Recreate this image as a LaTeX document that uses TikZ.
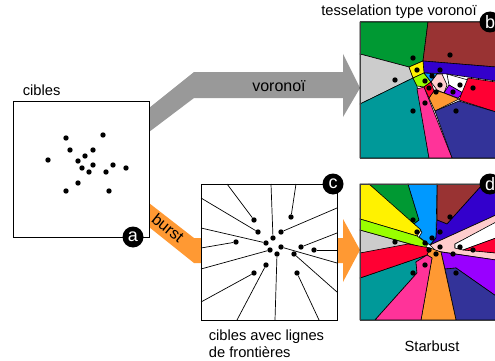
\documentclass[tikz,border=0pt]{standalone}
\usepackage{fontspec}
\setmainfont{Liberation Sans}
\usetikzlibrary{positioning}
\definecolor{vgreen}{HTML}{009933}
\definecolor{vbrown}{HTML}{993333}
\definecolor{vblue}{HTML}{3300CC}
\definecolor{vgray}{HTML}{CCCCCC}
\definecolor{vteal}{HTML}{009999}
\definecolor{vpink}{HTML}{FF3399}
\definecolor{vorange}{HTML}{FF9933}
\definecolor{vnavy}{HTML}{333399}
\definecolor{vred}{HTML}{FF0033}
\definecolor{vlime}{HTML}{99FF00}
\definecolor{vazure}{HTML}{0099FF}
\definecolor{vpurple}{HTML}{9900FF}
\definecolor{vpale}{HTML}{FFCCCC}
\definecolor{vflow}{HTML}{999999}
\tikzset{
    %Define style for boxes
    panel/.style={
           draw=black,
           line width=.7pt,
           fill=white,
           minimum width=136pt,
           minimum height=136pt,
           inner sep=0pt},
    panelframe/.style={
           draw=black!75,
           line width=1pt,
           minimum width=136pt,
           minimum height=136pt,
           inner sep=0pt},
    cible/.style={
           circle,
           fill=black,
           inner sep=0pt,
           minimum size=5.4pt},
    badge/.style={
           circle,
           fill=black,
           text=white,
           inner sep=0pt,
           minimum size=21pt,
           font=\fontsize{18}{18}\selectfont},
    legende/.style={
           font=\fontsize{14.7}{17}\selectfont,
           inner sep=0pt,
           align=left},
    fleche/.style={
           font=\fontsize{16}{16}\selectfont,
           inner sep=0pt},
    % Define cell style
    cell/.style={
           draw=black,
           line width=.6pt,
           line join=round},
    frontiere/.style={
           draw=black,
           line width=.7pt}
}
\newcommand{\cibles}{1/66/138,2/103/135,3/70/150,4/93/150,5/85/156,6/48/160,7/78/161,8/93/165,9/113/165,10/82/168,11/126/168,12/89/172,13/106/172,14/78/183,15/66/191,16/109/191}
\begin{document}
\begin{tikzpicture}[x=1pt,y=-1pt]
\useasboundingbox (0,0) rectangle (495,361);
% flow arrows
\fill[vflow] (149,108) -- (194,72) -- (343,72) -- (343,54) -- (360,88) -- (343,117) -- (343,98) -- (194,98) -- (149,132) -- cycle;
\fill[vorange] (149,203) -- (194,238) -- (201,238) -- (201,263) -- (194,263) -- (149,227) -- cycle;
\fill[vorange] (337,238) -- (343,238) -- (343,219) -- (360,250) -- (343,282) -- (343,263) -- (337,263) -- cycle;
\node[fleche] (voronoi) at (279,86) {voronoï};
\node[fleche,rotate=-39] (burst) at (168,228) {burst};

% targets
\node[panel] (boxa) at (81,169.5) {};
\node[legende,above right=5pt and 10pt of boxa.north west] (cibles) {cibles};
\foreach \i/\x/\y in \cibles
    \node[cible] (a\i) at (\x,\y) {};
\node[badge] (bada) at (133,237) {a};

% targets with boundary lines
\node[panel] (boxc) at (269,252) {};
\foreach \i/\x/\y in \cibles
    \node[cible] (c\i) at (\x+188,\y+82) {};
\foreach \i/\x/\y in {1/227/184,2/296/184,3/201/198,4/337/208,5/271/184,6/201/248,7/201/228,8/337/263,9/337/233,10/201/269,11/337/250,12/275/320,13/337/292,14/237/320,15/201/302,16/319/320}{
    \coordinate (e\i) at (\x,\y);
    \draw[frontiere] (c\i) -- (e\i);
}
\node[badge] (badc) at (333,184) {c};
\node[legende,below right=9pt and 8pt of boxc.south west] (avec) {cibles avec lignes\\de frontières};

% voronoi tessellation
\draw[cell,fill=vgreen] (360,22) -- (428,22) -- (423,61) -- (409,67) -- (360,54) -- cycle;
\draw[cell,fill=vbrown] (428,22) -- (496,22) -- (496,67) -- (423,61) -- cycle;
\draw[cell,fill=vgray] (360,54) -- (409,67) -- (413,78) -- (360,104) -- cycle;
\draw[cell,fill=vteal] (360,104) -- (413,78) -- (417,86) -- (429,158) -- (360,158) -- cycle;
\draw[cell,fill=vblue] (423,61) -- (496,67) -- (496,81) -- (468,77) -- (447,74) -- (428,73) -- (424,73) -- cycle;
\draw[cell,fill=yellow] (409,67) -- (423,61) -- (424,73) -- (413,78) -- cycle;
\draw[cell,fill=vlime] (413,78) -- (424,73) -- (431,82) -- (424,87) -- (417,86) -- cycle;
\draw[cell,fill=vazure] (424,73) -- (437,74) -- (431,82) -- cycle;
\draw[cell,fill=vpale] (437,74) -- (442,74) -- (447,85) -- (444,93) -- (437,90) -- (431,82) -- cycle;
\draw[cell,fill=white] (447,74) -- (468,80) -- (463,93) -- (449,85) -- cycle;
\draw[cell,fill=vpurple] (449,85) -- (463,93) -- (458,98) -- (444,93) -- cycle;
\draw[cell,fill=vred] (468,78) -- (496,82) -- (496,112) -- (459,100) -- cycle;
\draw[cell,fill=vorange] (434,90) -- (444,93) -- (459,99) -- (435,111) -- (429,98) -- cycle;
\draw[cell,fill=vnavy] (459,101) -- (496,112) -- (496,158) -- (452,158) -- (435,111) -- cycle;
\draw[cell,fill=vpink] (417,89) -- (424,87) -- (452,158) -- (429,158) -- cycle;
\draw[cell,fill=vred] (424,87) -- (431,82) -- (434,91) -- (429,98) -- cycle;
\node[panelframe] (boxb) at (428,90) {};
\foreach \i/\x/\y in \cibles
    \node[cible] (b\i) at (\x+347,\y-80) {};
\node[badge] (badb) at (490,22) {b};
\node[legende,above=2.5pt of boxb.north,xshift=-29pt] (tess) {tesselation type voronoï};

% starburst
\draw[cell,fill=vgreen] (369,184) -- (408,184) -- (419,220) -- (414,224) -- (420,232) -- cycle;
\draw[cell,fill=vbrown] (437,184) -- (483,184) -- (447,224) -- (437,220) -- cycle;
\draw[cell,fill=vazure] (408,184) -- (437,184) -- (436,238) -- (430,245) -- (419,237) -- (422,232) -- (414,224) -- (419,220) -- cycle;
\draw[cell,fill=vblue] (483,184) -- (496,184) -- (496,215) -- (430,245) -- (436,238) -- (437,220) -- (447,224) -- cycle;
\draw[cell,fill=yellow] (360,184) -- (369,184) -- (421,230) -- (417,236) -- (360,219) -- cycle;
\draw[cell,fill=vgray] (360,230) -- (424,248) -- (360,253) -- cycle;
\draw[cell,fill=vlime] (360,219) -- (417,236) -- (428,244) -- (425,248) -- (360,230) -- cycle;
\draw[cell,fill=vteal] (360,278) -- (427,255) -- (416,262) -- (417,273) -- (375,320) -- (360,320) -- cycle;
\draw[cell,fill=vpale] (496,215) -- (430,245) -- (436,251) -- (496,260) -- (496,253) -- (455,248) -- (455,244) -- (496,223) -- cycle;
\draw[cell,fill=white] (455,244) -- (496,222) -- (496,238) -- (463,250) -- (455,248) -- cycle;
\draw[cell,fill=vred] (463,250) -- (496,238) -- (496,253) -- cycle;
\draw[cell,fill=vpurple] (441,252) -- (496,260) -- (496,296) -- (456,268) -- (445,269) -- cycle;
\draw[cell,fill=vnavy] (445,269) -- (456,268) -- (496,296) -- (496,320) -- (456,320) -- cycle;
\draw[cell,fill=vorange] (430,248) -- (441,252) -- (456,320) -- (421,320) -- (432,258) -- (427,255) -- cycle;
\draw[cell,fill=vred] (360,253) -- (408,244) -- (430,248) -- (427,255) -- (360,278) -- cycle;
\draw[cell,fill=vpink] (375,320) -- (421,320) -- (432,258) -- (427,255) -- (416,262) -- (417,273) -- cycle;
\node[panelframe] (boxd) at (428,252) {};
\foreach \i/\x/\y in \cibles
    \node[cible] (d\i) at (\x+347,\y+82) {};
\node[badge] (badd) at (490,184) {d};
\node[legende,below=20pt of boxd.south,xshift=4pt] (starbust) {Starbust};
\end{tikzpicture}
\end{document}
